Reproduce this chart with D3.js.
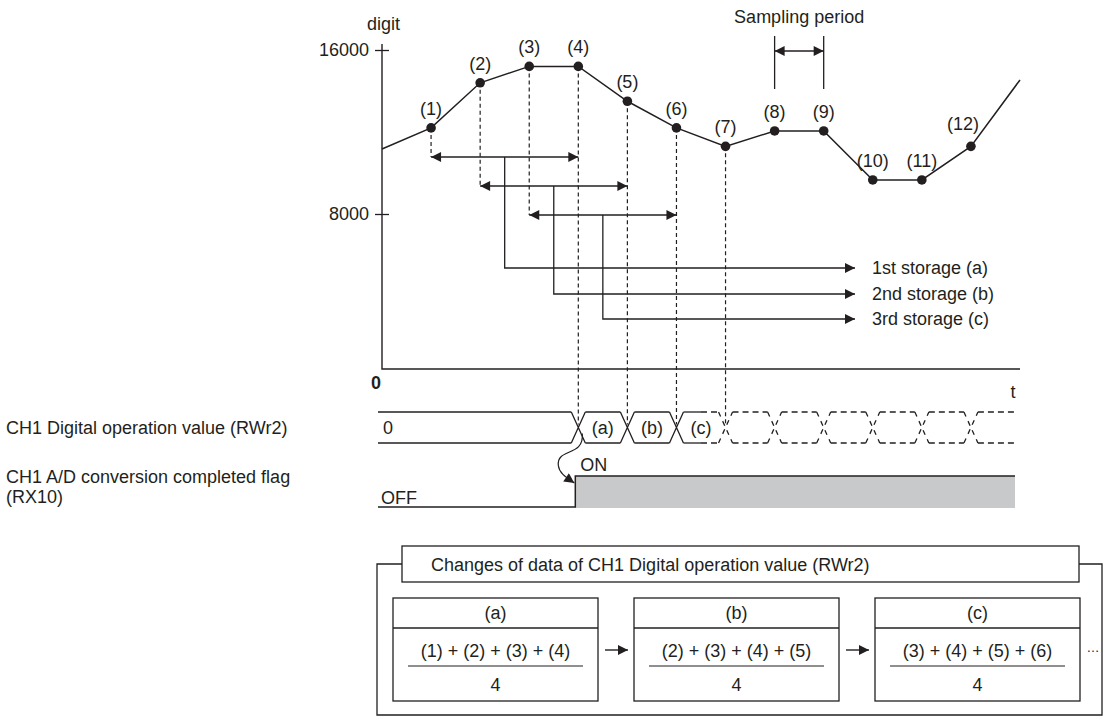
<!DOCTYPE html>
<html>
<head>
<meta charset="utf-8">
<script src="https://cdn.jsdelivr.net/npm/d3@7"></script>
<style>
  body { margin: 0; background: #fff; }
  text { font-family: "Liberation Sans", Arial, sans-serif; font-size: 18px; fill: #231f20; }
</style>
</head>
<body>
<svg id="chart" width="1114" height="720"></svg>
<script>
const sampleT = [0, 1, 2, 3, 4, 5, 6, 7, 8, 9, 10, 11, 12, 13];
const sampleV = [11170, 12200, 14400, 15200, 15200, 13500, 12200, 11300, 12050, 12050, 9660, 9660, 11300, 14540];
const pointLabels = ["(1)", "(2)", "(3)", "(4)", "(5)", "(6)", "(7)", "(8)", "(9)", "(10)", "(11)", "(12)"];
const yTicks = [8000, 16000];

// Moving average windows (4 samples each) and where they get stored
const windowStart = [1, 2, 3];
const storageLabels = ["1st storage (a)", "2nd storage (b)", "3rd storage (c)"];
const busLabels = ["(a)", "(b)", "(c)"];
const busChanges = [4, 5, 6, 7, 8, 9, 10, 11, 12];

// Bottom table
const formulaHeads = ["(a)", "(b)", "(c)"];
const formulaNums = ["(1) + (2) + (3) + (4)", "(2) + (3) + (4) + (5)", "(3) + (4) + (5) + (6)"];
const formulaDen = "4";

const ink = "#231f20";
const svg = d3.select("#chart");

// Scales
const x = d3.scaleLinear().domain([0, 13]).range([382, 1020]);
const y = d3.scaleLinear().domain([8000, 16000]).range([214, 50]);
const axisBottomY = 369;

// Arrow markers
const defs = svg.append("defs");
defs.append("marker")
    .attr("id", "head")
    .attr("viewBox", "0 0 10 10")
    .attr("refX", 10).attr("refY", 5)
    .attr("markerWidth", 12).attr("markerHeight", 10)
    .attr("markerUnits", "userSpaceOnUse")
    .attr("orient", "auto-start-reverse")
    .append("path").attr("d", "M0,0L10,5L0,10Z").attr("fill", ink);

// Y axis
const yAxis = svg.append("g")
    .attr("transform", `translate(${x(0)},0)`)
    .call(d3.axisLeft(y).tickValues(yTicks).tickSize(7).tickPadding(6).tickFormat(d3.format("d")));
yAxis.select(".domain").remove();
yAxis.selectAll("line").attr("x2", -7).attr("x1", 7).attr("stroke", ink).attr("stroke-width", 1.3);
yAxis.selectAll("text").style("font-size", "18px").attr("fill", ink)
    .attr("font-family", "Liberation Sans, Arial, sans-serif");

svg.append("path")
    .attr("d", `M${x(0)},44V${axisBottomY}H${x(13)}`)
    .attr("fill", "none").attr("stroke", ink).attr("stroke-width", 1.4);

svg.append("text").attr("x", 367).attr("y", 30).text("digit");
svg.append("text").attr("x", 381).attr("y", 389).attr("text-anchor", "end")
    .style("font-weight", "bold").text("0");
svg.append("text").attr("x", 1013).attr("y", 398).attr("text-anchor", "middle").text("t");

// Sampling period bracket
svg.append("text").attr("x", (x(8) + x(9)) / 2).attr("y", 23).attr("text-anchor", "middle").text("Sampling period");
[8, 9].forEach(t => {
    svg.append("line").attr("x1", x(t)).attr("x2", x(t)).attr("y1", 36).attr("y2", 89)
        .attr("stroke", ink).attr("stroke-width", 1.3);
});
svg.append("line").attr("x1", x(8)).attr("x2", x(9)).attr("y1", 51).attr("y2", 51)
    .attr("stroke", ink).attr("stroke-width", 1.4)
    .attr("marker-start", "url(#head)").attr("marker-end", "url(#head)");

// Rows for the averaging windows
const rowY = i => y(8000) - (2 - i) * 29 + 1;
const storeY = [268, 294, 319];
const busTop = 412, busBot = 443, busMid = (busTop + busBot) / 2;

// Dashed drop lines from sampled points
const dash = "4,3";
sampleT.slice(1, 8).forEach(t => {
    const yEnd = t <= 3 ? rowY(t - 1) : busMid - 3;
    svg.append("line")
        .attr("x1", x(t)).attr("x2", x(t))
        .attr("y1", y(sampleV[t])).attr("y2", yEnd)
        .attr("stroke", ink).attr("stroke-width", 1.2).attr("stroke-dasharray", dash);
});

// Window arrows and storage lines
windowStart.forEach((s, i) => {
    const ry = rowY(i);
    svg.append("line")
        .attr("x1", x(s)).attr("x2", x(s + 3)).attr("y1", ry).attr("y2", ry)
        .attr("stroke", ink).attr("stroke-width", 1.4)
        .attr("marker-start", "url(#head)").attr("marker-end", "url(#head)");
    const mx = x(s + 1.5);
    svg.append("path")
        .attr("d", `M${mx},${ry}V${storeY[i]}H855`)
        .attr("fill", "none").attr("stroke", ink).attr("stroke-width", 1.3)
        .attr("marker-end", "url(#head)");
    svg.append("text").attr("x", 872).attr("y", storeY[i] + 6).text(storageLabels[i]);
});

// Input curve and sample points
const line = d3.line().x((d, i) => x(sampleT[i])).y(d => y(d));
svg.append("path").datum(sampleV)
    .attr("d", line).attr("fill", "none").attr("stroke", ink).attr("stroke-width", 1.5);

svg.selectAll("circle.pt")
    .data(sampleT.slice(1, 13))
    .enter().append("circle")
    .attr("class", "pt")
    .attr("cx", t => x(t)).attr("cy", t => y(sampleV[t])).attr("r", 4.8)
    .attr("fill", ink);

svg.selectAll("text.pl")
    .data(sampleT.slice(1, 13))
    .enter().append("text")
    .attr("class", "pl")
    .attr("x", t => x(t) - (t === 12 ? 8 : 0))
    .attr("y", t => y(sampleV[t]) - 13 - (t === 12 ? 3 : 0))
    .attr("text-anchor", "middle")
    .text((t, i) => pointLabels[i]);

// Left row labels
svg.append("text").attr("x", 6).attr("y", busMid + 6).text("CH1 Digital operation value (RWr2)");
svg.append("text").attr("x", 6).attr("y", 483).text("CH1 A/D conversion completed flag");
svg.append("text").attr("x", 6).attr("y", 503).text("(RX10)");

// Digital operation value bus
const h = 7;
const busEnd = 1016;
const seg = (x1, x2, dashed) => {
    [busTop, busBot].forEach(yy => {
        svg.append("line").attr("x1", x1).attr("x2", x2).attr("y1", yy).attr("y2", yy)
            .attr("stroke", ink).attr("stroke-width", 1.3)
            .attr("stroke-dasharray", dashed ? "6,4" : null);
    });
};
seg(378, x(busChanges[0]) - h, false);
svg.append("text").attr("x", 383).attr("y", busMid + 6).text("0");

busChanges.forEach((t, i) => {
    const cx = x(t);
    const dashed = i >= 3;
    svg.append("path")
        .attr("d", `M${cx - h},${busTop}L${cx + h},${busBot}M${cx - h},${busBot}L${cx + h},${busTop}`)
        .attr("fill", "none").attr("stroke", ink).attr("stroke-width", 1.3)
        .attr("stroke-dasharray", dashed ? "5,5" : null);
    const x2 = i < busChanges.length - 1 ? x(busChanges[i + 1]) - h : busEnd;
    if (i < 2) {
        seg(cx + h, x2, false);
    } else if (i === 2) {
        const mid = (cx + h + x2) / 2;
        seg(cx + h, mid, false);
        seg(mid, x2, true);
    } else {
        seg(cx + h, x2, true);
    }
    if (i < busLabels.length) {
        svg.append("text").attr("x", (cx + x(busChanges[i + 1])) / 2).attr("y", busMid + 6)
            .attr("text-anchor", "middle").text(busLabels[i]);
    }
});

// Conversion completed flag
const flagTop = 476, flagBot = 507;
const rise = x(busChanges[0]) - 3;
svg.append("rect")
    .attr("x", rise).attr("y", flagTop).attr("width", 1015 - rise).attr("height", flagBot - flagTop + 1)
    .attr("fill", "#c8c9cb");
svg.append("path")
    .attr("d", `M378,${flagBot}H${rise}V${flagTop}H1015`)
    .attr("fill", "none").attr("stroke", ink).attr("stroke-width", 1.5);
svg.append("text").attr("x", 381).attr("y", 504).text("OFF");
svg.append("text").attr("x", rise + 5).attr("y", 471).text("ON");

// Curved arrow from the first change to the flag
svg.append("path")
    .attr("d", `M${x(4) + 4},${busMid + 6}C${x(4) + 6},${busMid + 30} ${x(4) - 22},${busMid + 20} ${x(4) - 20},${busMid + 38}C${x(4) - 19},${busMid + 46} ${x(4) - 12},${busMid + 50} ${rise - 1},${flagTop + 7}`)
    .attr("fill", "none").attr("stroke", ink).attr("stroke-width", 1.2)
    .attr("marker-end", "url(#head)");

// Bottom table: data changes
svg.append("path")
    .attr("d", "M402,564H377V715H1102V564H1079")
    .attr("fill", "none").attr("stroke", ink).attr("stroke-width", 1.3);
svg.append("rect").attr("x", 402).attr("y", 546).attr("width", 677).attr("height", 36)
    .attr("fill", "#fff").attr("stroke", ink).attr("stroke-width", 1.3);
svg.append("text").attr("x", 431).attr("y", 571).text("Changes of data of CH1 Digital operation value (RWr2)");

const boxW = 205;
formulaHeads.forEach((hd, i) => {
    const bx = 393 + i * 241;
    svg.append("rect").attr("x", bx).attr("y", 598).attr("width", boxW).attr("height", 103)
        .attr("fill", "none").attr("stroke", ink).attr("stroke-width", 1.3);
    svg.append("line").attr("x1", bx).attr("x2", bx + boxW).attr("y1", 628).attr("y2", 628)
        .attr("stroke", ink).attr("stroke-width", 1.3);
    svg.append("text").attr("x", bx + boxW / 2).attr("y", 619).attr("text-anchor", "middle").text(hd);
    svg.append("text").attr("x", bx + boxW / 2).attr("y", 657).attr("text-anchor", "middle").text(formulaNums[i]);
    svg.append("line").attr("x1", bx + 15).attr("x2", bx + boxW - 15).attr("y1", 666).attr("y2", 666)
        .attr("stroke", ink).attr("stroke-width", 1.2);
    svg.append("text").attr("x", bx + boxW / 2).attr("y", 691).attr("text-anchor", "middle").text(formulaDen);
    if (i < formulaHeads.length - 1) {
        svg.append("line").attr("x1", bx + boxW + 7).attr("x2", bx + boxW + 30).attr("y1", 650).attr("y2", 650)
            .attr("stroke", ink).attr("stroke-width", 1.4).attr("marker-end", "url(#head)");
    }
});
svg.append("text").attr("x", 1093).attr("y", 652).attr("text-anchor", "middle")
    .style("font-size", "13px").attr("fill", "#555").text("…");
</script>
</body>
</html>
